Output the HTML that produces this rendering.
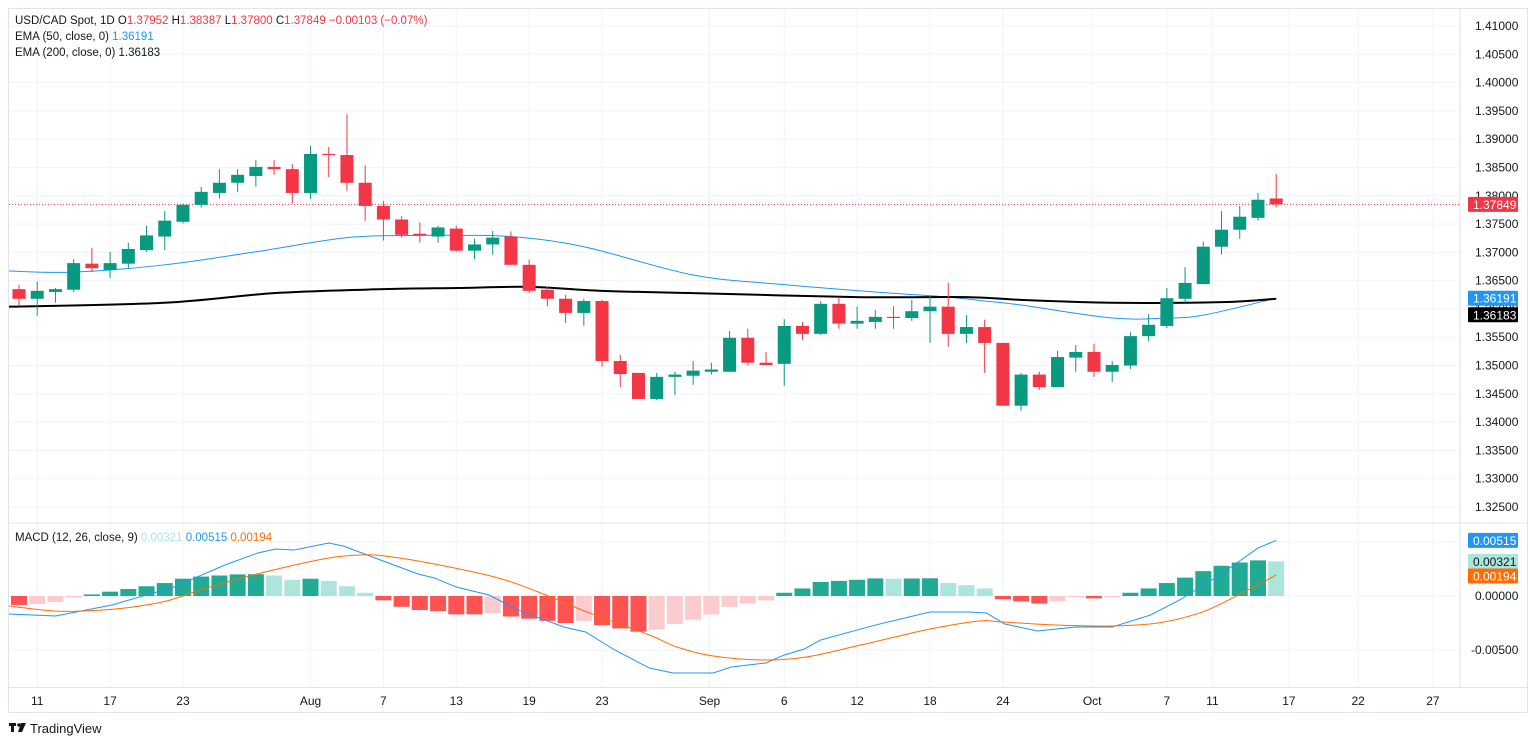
<!DOCTYPE html>
<html><head><meta charset="utf-8"><style>
html,body{margin:0;padding:0;background:#fff;width:1536px;height:744px;overflow:hidden}
svg{display:block;font-family:"Liberation Sans",sans-serif}
</style></head><body>
<svg id="c" width="1536" height="744" viewBox="0 0 1536 744"></svg>
<script>
const opens=[1.3635,1.3618,1.3630,1.3634,1.3680,1.3669,1.3680,1.3704,1.3728,1.3754,1.3784,1.3805,1.3823,1.3835,1.3851,1.3847,1.3805,1.3874,1.3872,1.3823,1.3782,1.3758,1.3733,1.3728,1.3742,1.3703,1.3714,1.3728,1.3678,1.3634,1.3618,1.3593,1.3614,1.3508,1.3487,1.3441,1.3480,1.3482,1.3489,1.3489,1.3549,1.3505,1.3503,1.3570,1.3556,1.3609,1.3574,1.3577,1.3586,1.3584,1.3596,1.3604,1.3556,1.3568,1.3540,1.3429,1.3484,1.3462,1.3514,1.3524,1.3489,1.3500,1.3552,1.3570,1.3618,1.3644,1.3710,1.3740,1.3761,1.37952];
const highs=[1.3643,1.3648,1.3637,1.3688,1.3708,1.3701,1.3717,1.3747,1.3773,1.3786,1.3816,1.3847,1.3847,1.3863,1.3863,1.3856,1.3888,1.3886,1.3944,1.3854,1.3791,1.3764,1.3753,1.3747,1.3747,1.3724,1.3738,1.3737,1.3687,1.3639,1.3625,1.3618,1.3616,1.3519,1.3487,1.3487,1.3489,1.3508,1.3505,1.3561,1.3565,1.3524,1.3582,1.3577,1.3614,1.3621,1.3604,1.3598,1.3605,1.3616,1.3623,1.3646,1.3589,1.3581,1.3540,1.3487,1.3489,1.3526,1.3536,1.3538,1.3508,1.3559,1.3591,1.3637,1.3674,1.3719,1.3773,1.3782,1.3805,1.38387];
const lows=[1.3607,1.3588,1.3611,1.3630,1.3665,1.3655,1.3671,1.3701,1.3704,1.3751,1.3779,1.3795,1.3807,1.3816,1.3837,1.3786,1.3795,1.3833,1.3809,1.3756,1.3721,1.3726,1.3717,1.3717,1.3701,1.3688,1.3696,1.3678,1.3628,1.3605,1.3575,1.3570,1.3498,1.3462,1.3441,1.3439,1.3448,1.3466,1.3484,1.3489,1.3500,1.3501,1.3464,1.3545,1.3554,1.3565,1.3565,1.3565,1.3565,1.3579,1.3540,1.3533,1.3540,1.3487,1.3429,1.3420,1.3457,1.3462,1.3489,1.3480,1.3471,1.3494,1.3543,1.3566,1.3611,1.3644,1.3696,1.3724,1.3756,1.37800];
const closes=[1.3618,1.3632,1.3635,1.3681,1.3672,1.3681,1.3706,1.3730,1.3756,1.3784,1.3807,1.3823,1.3837,1.3851,1.3847,1.3805,1.3874,1.3872,1.3823,1.3782,1.3758,1.3731,1.3730,1.3744,1.3703,1.3714,1.3726,1.3678,1.3632,1.3618,1.3593,1.3614,1.3508,1.3485,1.3441,1.3480,1.3484,1.3491,1.3493,1.3549,1.3505,1.3501,1.3570,1.3556,1.3609,1.3574,1.3579,1.3586,1.3584,1.3596,1.3604,1.3556,1.3568,1.3540,1.3429,1.3484,1.3462,1.3515,1.3524,1.3489,1.3501,1.3552,1.3572,1.3619,1.3646,1.3710,1.3740,1.3763,1.3793,1.37849];
const ema50Idx=[-0.55,3,8,13,18,22,24,27,31,37,42,47,51,53,55,60,63,65,69];
const ema50=[1.3667,1.3665,1.3678,1.3701,1.3726,1.3730,1.3730,1.3728,1.3710,1.3660,1.3643,1.3630,1.3621,1.3614,1.3607,1.3584,1.3584,1.3589,1.3619];
const ema200Idx=[-0.55,8,14,20,24,28,32,37,46,52,55,60,66,69];
const ema200=[1.3604,1.3611,1.3628,1.3635,1.3637,1.3639,1.3632,1.3628,1.3621,1.3621,1.3616,1.3611,1.3612,1.3618];
const hist=[-0.00083,-0.00074,-0.00056,-0.00015,0.00015,0.0004,0.00065,0.0009,0.0012,0.0016,0.0018,0.0019,0.0020,0.00202,0.0019,0.0015,0.0016,0.0014,0.0009,0.0003,-0.0004,-0.001,-0.0013,-0.0014,-0.0017,-0.0017,-0.0016,-0.0019,-0.0021,-0.0023,-0.0025,-0.0023,-0.0027,-0.0030,-0.0033,-0.0031,-0.0026,-0.0022,-0.0017,-0.0010,-0.0007,-0.0004,0.0003,0.0007,0.0013,0.0014,0.0015,0.00163,0.0016,0.00162,0.00164,0.0012,0.0010,0.0007,-0.0003,-0.0005,-0.0007,-0.0005,-0.00012,-0.00022,-0.00012,0.0003,0.0007,0.0012,0.0017,0.0023,0.0028,0.0031,0.0033,0.00321];
const macdIdx=[-0.55,2,5.1,8.5,11.3,13.1,14.1,15.1,17,17.8,19.4,21.9,22.8,24,25.8,27.4,29.9,31.1,32.7,34.6,35.9,38.1,39.1,41,42,43.1,44,47,50,52.1,53.1,54.1,55.9,58,60,62.1,63.7,65.9,68,69];
const macdVals=[-0.00167,-0.00185,-0.00083,0.00083,0.00287,0.00398,0.00435,0.00426,0.00491,0.00463,0.00361,0.00204,0.00167,0.00083,0.00009,-0.0013,-0.00287,-0.00333,-0.005,-0.00667,-0.00713,-0.00713,-0.00657,-0.0062,-0.00546,-0.00491,-0.00407,-0.00269,-0.00148,-0.00148,-0.00157,-0.00259,-0.00324,-0.00287,-0.00287,-0.00176,-0.00037,0.00194,0.00444,0.00515];
const sigIdx=[-0.55,1.9,3.5,5.8,8.1,10.3,13.5,17,18.8,20.1,22.8,26.3,28.5,31.3,34.6,36.1,38.1,40.9,43.2,46.2,50,52.7,53.9,56.9,60,62.5,64.8,66.6,69];
const sigVals=[-0.00093,-0.00139,-0.00139,-0.00111,-0.00046,0.00074,0.00222,0.00352,0.0038,0.0037,0.00296,0.00167,0.00037,-0.00157,-0.00361,-0.00472,-0.00556,-0.00593,-0.00565,-0.00454,-0.00306,-0.00231,-0.0024,-0.00269,-0.00278,-0.0025,-0.00157,-0.00019,0.00194];
const priceTicks=["1.41000","1.40500","1.40000","1.39500","1.39000","1.38500","1.38000","1.37500","1.37000","1.36500","1.36000","1.35500","1.35000","1.34500","1.34000","1.33500","1.33000","1.32500"];
const macdTicks=["0.00000","-0.00500"];
const timeLabels=["11","17","23","Aug","7","13","19","23","Sep","6","12","18","24","Oct","7","11","17","22","27"];
const timePos=[1,5,9,16,20,24,28,32,37.9,42,46,50,54,58.9,63,65.5,69.7,73.5,77.6];

const NS="http://www.w3.org/2000/svg";
const svg=document.getElementById('c');
function el(t,a,p){const e=document.createElementNS(NS,t);for(const k in a)e.setAttribute(k,a[k]);(p||svg).appendChild(e);return e;}
const X=i=>19+i*18.22;
const Y=p=>26+(1.41-p)*5659;
const MY=v=>596-v*10800;
const PR=1460;

const fr=el('rect',{x:8.5,y:8.5,width:1519,height:704,fill:'none',stroke:'#e0e3eb'});

const g=el('g',{});

priceTicks.forEach(t=>{const y=Y(parseFloat(t));el('line',{x1:9,x2:PR,y1:y,y2:y,stroke:'#f0f3fa'},g);});
macdTicks.concat(["0.00500"]).forEach(t=>{const y=MY(parseFloat(t));el('line',{x1:9,x2:PR,y1:y,y2:y,stroke:'#f0f3fa'},g);});
timePos.forEach(i=>{const x=X(i);el('line',{x1:x,x2:x,y1:9,y2:687,stroke:'#f0f3fa'},g);});
el('line',{x1:9,x2:1527,y1:523,y2:523,stroke:'#e0e3eb'});
el('line',{x1:PR,x2:PR,y1:9,y2:687,stroke:'#e0e3eb'});
el('line',{x1:9,x2:1527,y1:687.5,y2:687.5,stroke:'#e0e3eb'});

const pa=el('g',{'font-size':'12',fill:'#131722'});

priceTicks.forEach(t=>{const tx=el('text',{x:1475,y:Y(parseFloat(t))+4},pa);tx.textContent=t;});
const ma=el('g',{'font-size':'12',fill:'#131722'});

macdTicks.forEach(t=>{const v=parseFloat(t);const tx=el('text',{x:v<0?1471:1475,y:MY(v)+4},ma);tx.textContent=t;});
const ta=el('g',{'font-size':'12',fill:'#131722','text-anchor':'middle'});

timeLabels.forEach((t,k)=>{const tx=el('text',{x:X(timePos[k]),y:705},ta);tx.textContent=t;});

el('line',{x1:9,x2:PR,y1:Y(closes[closes.length-1]),y2:Y(closes[closes.length-1]),stroke:'#f23645','stroke-dasharray':'1 2'});

function smooth(idx,vals,fy){const pts=idx.map((i,k)=>[X(i),fy(vals[k])]);let d='M'+pts[0][0]+','+pts[0][1];
for(let k=0;k<pts.length-1;k++){const p0=pts[k-1]||pts[k],p1=pts[k],p2=pts[k+1],p3=pts[k+2]||p2;
d+=' C'+(p1[0]+(p2[0]-p0[0])/6)+','+(p1[1]+(p2[1]-p0[1])/6)+' '+(p2[0]-(p3[0]-p1[0])/6)+','+(p2[1]-(p3[1]-p1[1])/6)+' '+p2[0]+','+p2[1];}return d;}
function poly(idx,vals,fy){return 'M'+idx.map((i,k)=>X(i)+','+fy(vals[k])).join(' L');}
const e50=el('path',{d:smooth(ema50Idx,ema50,Y),fill:'none',stroke:'#2196f3','stroke-width':1});

const e200=el('path',{d:smooth(ema200Idx,ema200,Y),fill:'none',stroke:'#000','stroke-width':2});


const cg=el('g',{});

opens.forEach((o,i)=>{const c=closes[i],up=c>=o,col=up?'#089981':'#f23645',x=X(i);
const k=el('g',{},cg);


el('line',{x1:x,x2:x,y1:Y(highs[i]),y2:Y(lows[i]),stroke:col,'stroke-width':1},k);
const t=Y(Math.max(o,c)),b=Y(Math.min(o,c));
el('rect',{x:x-6.5,y:t,width:13,height:Math.max(1,b-t),fill:col},k);});

const hg=el('g',{});

hist.forEach((v,i)=>{const prev=i>0?hist[i-1]:v;let col;
if(v>=0)col=v>=prev?'#22ab94':'#ace5dc';else col=v<=prev?'#ff5252':'#fccbcd';
const y0=MY(0),y1=MY(v);
const r=el('rect',{x:X(i)-8,y:Math.min(y0,y1),width:16,height:Math.max(1,Math.abs(y1-y0)),fill:col},hg);

});
const ml=el('path',{d:poly(macdIdx,macdVals,MY),fill:'none',stroke:'#2196f3','stroke-width':1});

const sl=el('path',{d:smooth(sigIdx,sigVals,MY),fill:'none',stroke:'#ff6d00','stroke-width':1});


function tag(val,y,bg,fg,name){const t=el('g',{});
el('rect',{x:1468,y:y-7.5,width:50,height:15,fill:bg,rx:1},t);
const tx=el('text',{x:1473,y:y+4.5,'font-size':'12',fill:fg},t);tx.textContent=val;}
tag('1.37849',Y(closes[closes.length-1]),'#f23645','#fff','last-price-tag');
tag('1.36191',Y(ema50[ema50.length-1]),'#2196f3','#fff','ema50-tag');
tag('1.36183',Y(ema200[ema200.length-1])+16,'#000','#fff','ema200-tag');
tag('0.00515',MY(macdVals[macdVals.length-1]),'#2196f3','#fff','macd-tag');
tag('0.00321',MY(hist[hist.length-1]),'#ace5dc','#131722','histogram-tag');
tag('0.00194',MY(sigVals[sigVals.length-1])+1,'#ff6d00','#fff','signal-tag');

function legend(y,parts,name){const t=el('text',{x:15,y:y,'font-size':'11.5'});
parts.forEach(p=>{const s=el('tspan',{fill:p[1]},t);s.textContent=p[0];});}
legend(24,[['USD/CAD Spot, 1D  O','#131722'],['1.37952','#f23645'],['  H','#131722'],['1.38387','#f23645'],['  L','#131722'],['1.37800','#f23645'],['  C','#131722'],['1.37849','#f23645'],['  −0.00103 (−0.07%)','#f23645']],'symbol-legend');
legend(40,[['EMA (50, close, 0)  ','#131722'],['1.36191','#2196f3']],'ema50-legend');
legend(56,[['EMA (200, close, 0)  ','#131722'],['1.36183','#131722']],'ema200-legend');
legend(541,[['MACD (12, 26, close, 9)  ','#131722'],['0.00321','#ace5dc'],['  ','#131722'],['0.00515','#2196f3'],['  ','#131722'],['0.00194','#ff6d00']],'macd-legend');

const lg=el('g',{});
el('rect',{x:9,y:723,width:7,height:3,fill:'#131722'},lg);
el('rect',{x:11,y:723,width:3,height:9,fill:'#131722'},lg);
el('circle',{cx:19,cy:725,r:1.8,fill:'#131722'},lg);
el('path',{d:'M21,723 L26,723 L22,732 L18,732 Z',fill:'#131722'},lg);
const lt=el('text',{x:30,y:733,'font-size':'13',fill:'#131722'},lg);lt.textContent='TradingView';
</script>
</body></html>
